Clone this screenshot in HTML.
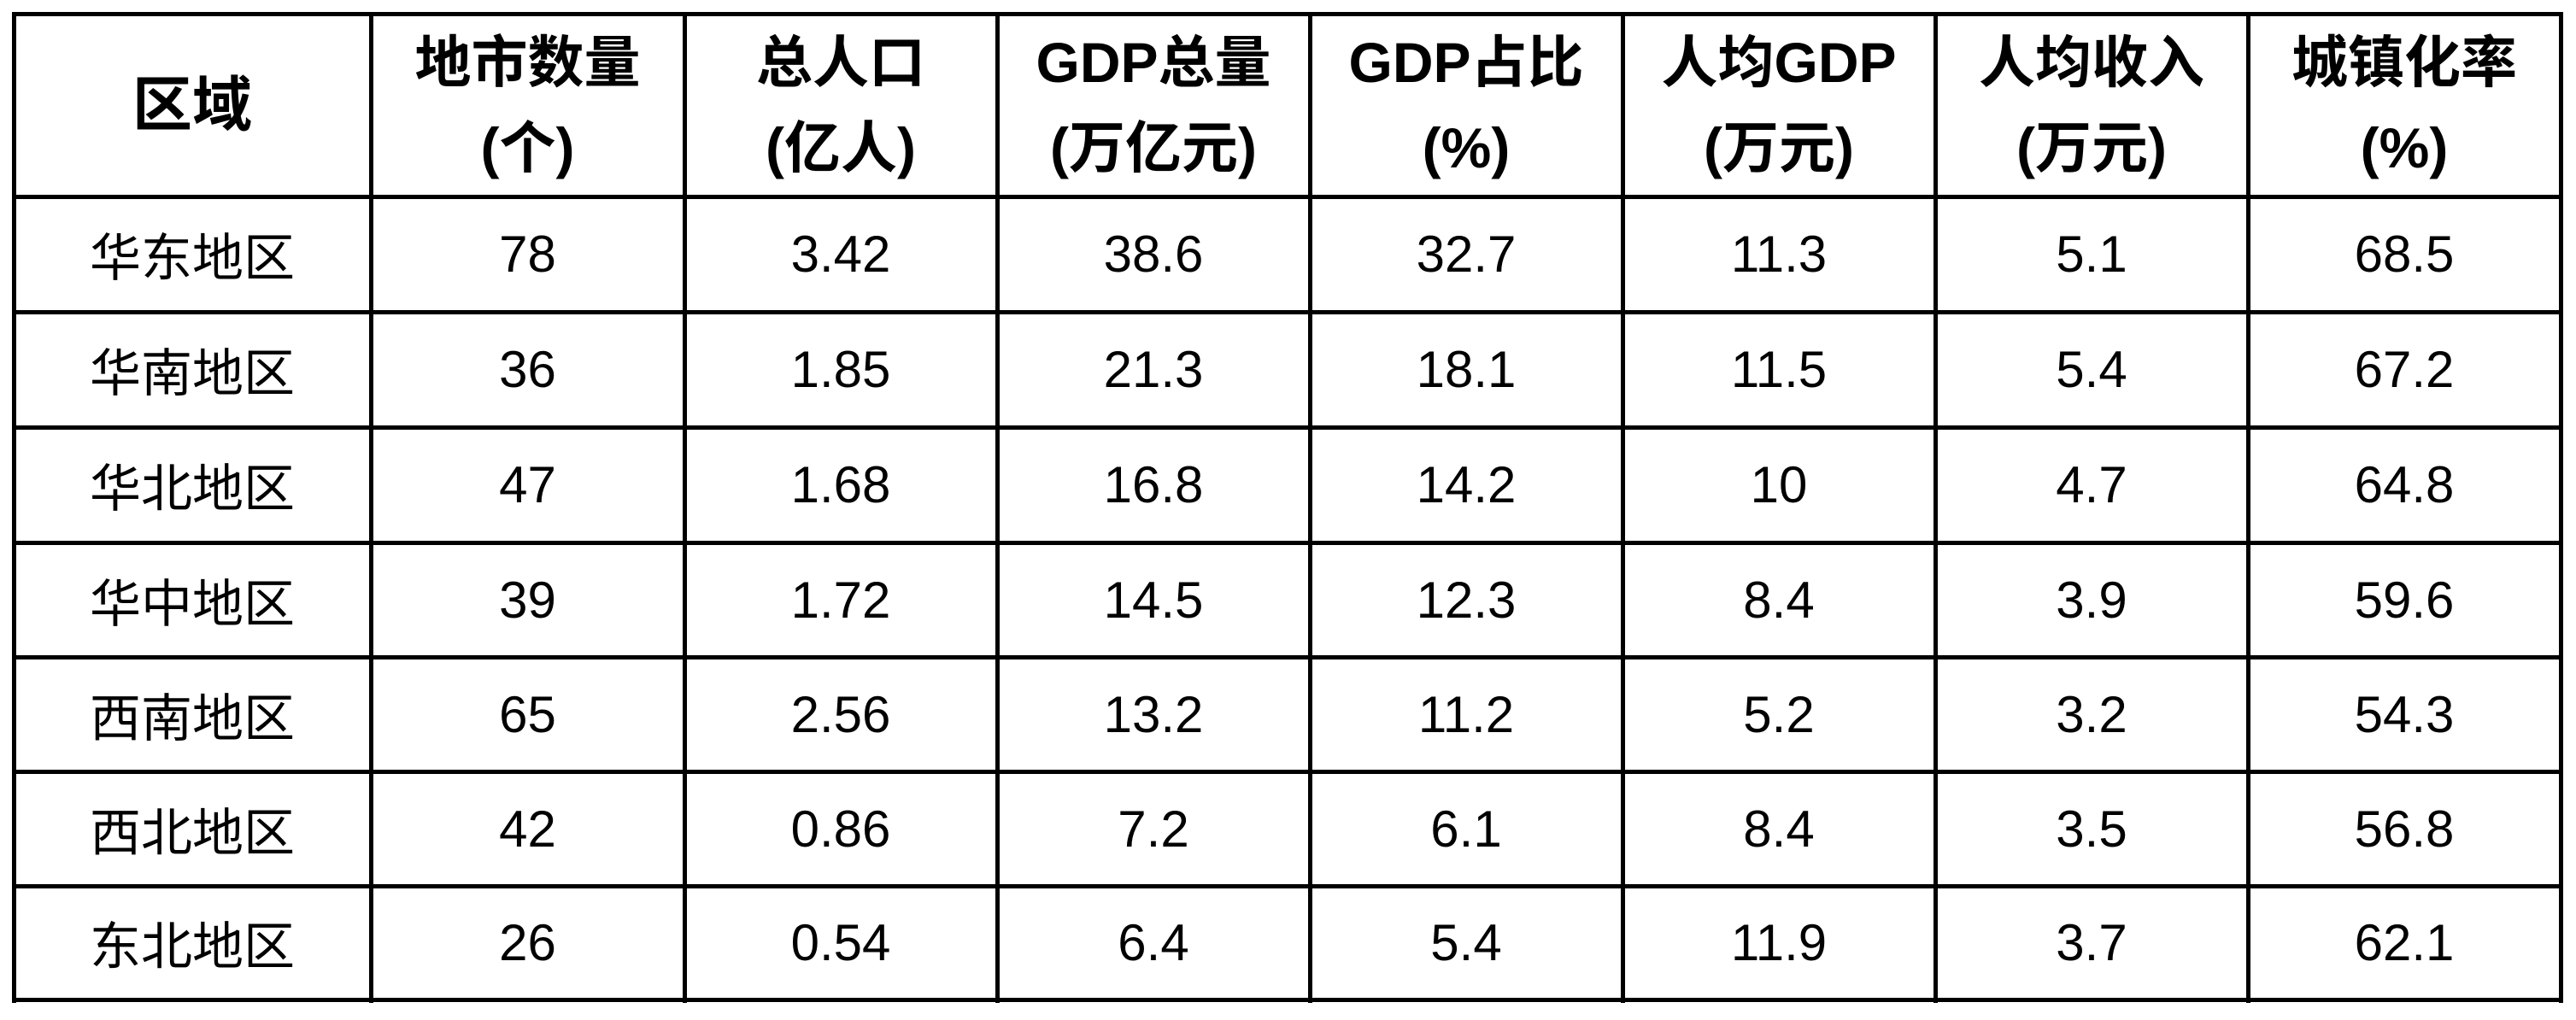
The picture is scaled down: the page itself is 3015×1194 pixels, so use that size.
<!DOCTYPE html>
<html><head><meta charset="utf-8"><style>
body{margin:0;width:3015px;height:1194px;background:#fff;position:relative;overflow:hidden;font-family:"Liberation Sans","Noto Sans CJK SC",sans-serif;color:#000}
.h,.v{position:absolute;background:#000}
.c{position:absolute;display:flex;align-items:center;justify-content:center;text-align:center}
.hd{font-weight:bold;font-size:66px;line-height:100px}
.z{font-size:70px}
.bd{font-size:60px}
</style></head><body>
<div id="g"></div>
<script>
var xs=[16,434,801,1167,1533,1899,2265,2631,2997];
var ys=[16,230,365,500,635,769,903,1037,1170];
var g=document.getElementById('g'),h='';
xs.forEach(function(x){h+='<div class="v" style="left:'+(x-2)+'px;top:14px;width:5px;height:1160px"></div>'});
ys.forEach(function(y){h+='<div class="h" style="left:14px;top:'+(y-2)+'px;width:2986px;height:5px"></div>'});
var head=['区域','地市数量<br>(个)','总人口<br>(亿人)','GDP总量<br>(万亿元)','GDP占比<br>(%)','人均GDP<br>(万元)','人均收入<br>(万元)','城镇化率<br>(%)'];
var rows=[['华东地区','78','3.42','38.6','32.7','11.3','5.1','68.5'],['华南地区','36','1.85','21.3','18.1','11.5','5.4','67.2'],['华北地区','47','1.68','16.8','14.2','10','4.7','64.8'],['华中地区','39','1.72','14.5','12.3','8.4','3.9','59.6'],['西南地区','65','2.56','13.2','11.2','5.2','3.2','54.3'],['西北地区','42','0.86','7.2','6.1','8.4','3.5','56.8'],['东北地区','26','0.54','6.4','5.4','11.9','3.7','62.1']];
function cell(i,r,t,cls){h+='<div class="c '+cls+'" style="left:'+xs[i]+'px;top:'+ys[r]+'px;width:'+(xs[i+1]-xs[i])+'px;height:'+(ys[r+1]-ys[r])+'px">'+t+'</div>'}
head.forEach(function(t,i){cell(i,0,t,'hd'+(i==0?' z':''))});
rows.forEach(function(row,r){row.forEach(function(t,i){cell(i,r+1,t,'bd')})});
g.innerHTML=h;
</script>
</body></html>
